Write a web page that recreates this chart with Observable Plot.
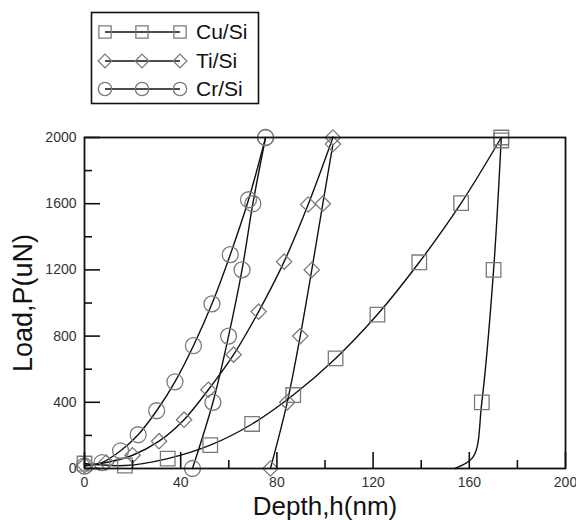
<!DOCTYPE html>
<html><head><meta charset="utf-8">
<script src="https://cdn.jsdelivr.net/npm/d3@7"></script>
<script src="https://cdn.jsdelivr.net/npm/@observablehq/plot@0.6"></script>
<style>
body{margin:0;background:#fff;font-family:"Liberation Sans",Arial,sans-serif;}
#wrap{position:relative;width:576px;height:520px;}
#wrap svg{position:absolute;left:0;top:0;}
</style></head><body><div id="wrap"></div>
<script>
// ---- data (depth h in nm, load P in uN) ----
const seriesNames = ["Cu/Si", "Ti/Si", "Cr/Si"];
const seriesSymbols = ["square", "diamond2", "circle"];

const cuLoading = [[0,30],[16.8,18],[34.6,60],[52.3,141],[69.7,269],[86.8,444],[104.4,665],[121.8,930],[139.2,1246],[156.6,1603],[173.3,2000]];
const cuUnloading = [[173.3,1982],[170.1,1200],[165.2,400]];
const cuUnloadingLine = [[173.3,2000],[170.1,1200],[165.2,400],[161.6,70],[154,0]];

const tiLoading = [[0,20],[9,36],[20,80],[31,165],[41.4,295],[51.5,476],[62,688],[72.4,948],[83,1250],[93,1595],[103.3,2000]];
const tiUnloading = [[103.3,1960],[99.1,1600],[94.5,1200],[89.7,800],[84.3,400],[77.3,0]];

const crLoading = [[0,15],[7.3,36],[15,107],[22.3,204],[30,349],[37.6,524],[45.3,742],[53,995],[60.6,1292],[68.2,1624],[75.3,2000]];
const crUnloading = [[75.3,2000],[70,1600],[65.5,1200],[59.9,800],[53.4,400],[44.9,0]];

const xMajorTicks = [0,40,80,120,160,200];
const xMinorTicks = [20,60,100,140,180];
const yMajorTicks = [0,400,800,1200,1600,2000];
const yMinorTicks = [200,600,1000,1400,1800];
const xLabel = "Depth,h(nm)";
const yLabel = "Load,P(uN)";

// ---- layout ----
const W = 576, H = 520;
const mL = 84, mR = 11, mT = 137, mB = 52;
const plotW = W - mL - mR, plotH = H - mT - mB;
const markerStroke = "#7a7a7a";
const font = "Liberation Sans, Arial, sans-serif";

const lineOpts = {x: d => d[0], y: d => d[1], stroke: "#111", strokeWidth: 1.4, curve: "catmull-rom"};
const dotOpts = (sym, r) => ({x: d => d[0], y: d => d[1], symbol: sym, r, stroke: markerStroke, fill: "none", strokeWidth: 1.3});

const chart = Plot.plot({
  width: W, height: H,
  marginLeft: mL, marginRight: mR, marginTop: mT, marginBottom: mB,
  style: {fontFamily: font, background: "transparent"},
  x: {domain: [0, 200], axis: null},
  y: {domain: [0, 2000], axis: null},
  marks: [
    // curves
    Plot.line(cuLoading, lineOpts),
    Plot.line(cuUnloadingLine, lineOpts),
    Plot.line(tiLoading, lineOpts),
    Plot.line(tiUnloading, lineOpts),
    Plot.line(crLoading, lineOpts),
    Plot.line(crUnloading, lineOpts),
    // markers
    Plot.dot(cuLoading, dotOpts("square", 8.2)),
    Plot.dot(cuUnloading, dotOpts("square", 8.2)),
    Plot.dot(tiLoading, dotOpts("diamond2", 6.9)),
    Plot.dot(tiUnloading, dotOpts("diamond2", 6.9)),
    Plot.dot(crLoading, dotOpts("circle", 8)),
    Plot.dot(crUnloading, dotOpts("circle", 8)),
    // inward ticks
    Plot.tickX(xMajorTicks, {x: d => d, insetTop: plotH - 16, stroke: "#111", strokeWidth: 1.6}),
    Plot.tickX(xMinorTicks, {x: d => d, insetTop: plotH - 8, stroke: "#111", strokeWidth: 1.6}),
    Plot.tickY(yMajorTicks, {y: d => d, insetRight: plotW - 16, stroke: "#111", strokeWidth: 1.6}),
    Plot.tickY(yMinorTicks, {y: d => d, insetRight: plotW - 8, stroke: "#111", strokeWidth: 1.6}),
    // tick labels
    Plot.axisX(xMajorTicks, {tickSize: 0, tickPadding: 9, fontSize: 14, fill: "#333", label: null, tickFormat: d => String(d)}),
    Plot.axisY(yMajorTicks, {tickSize: 0, tickPadding: 8, fontSize: 14, fill: "#333", label: null, tickFormat: d => String(d)}),
    // axis titles
    Plot.text([xLabel], {frameAnchor: "bottom", dy: 38, textAnchor: "middle", lineAnchor: "middle", fontSize: 26, fill: "#111", text: d => d}),
    Plot.text([yLabel], {frameAnchor: "left", dx: -61, rotate: -90, textAnchor: "middle", lineAnchor: "middle", fontSize: 27, fill: "#111", text: d => d}),
    Plot.frame({stroke: "#111", strokeWidth: 1.8})
  ]
});
const wrap = document.getElementById("wrap");
wrap.appendChild(chart);

// ---- legend (drawn above the plot area) ----
const leg = d3.select(wrap).append("svg").attr("width", W).attr("height", 120)
  .style("font-family", font);
leg.append("rect").attr("x", 91.5).attr("y", 12.5).attr("width", 167).attr("height", 91)
  .attr("fill", "white").attr("stroke", "#111").attr("stroke-width", 1.6);
const rowY = [32, 61, 89];
const mx = [105, 142, 180];
const symMap = {square: d3.symbolSquare, diamond2: d3.symbolDiamond2, circle: d3.symbolCircle};
const symSize = {square: 150, diamond2: 120, circle: 140};
seriesNames.forEach((name, i) => {
  const y = rowY[i];
  leg.append("line").attr("x1", mx[0]).attr("x2", mx[2]).attr("y1", y).attr("y2", y)
    .attr("stroke", "#111").attr("stroke-width", 1.4);
  mx.forEach(x => {
    leg.append("path").attr("d", d3.symbol(symMap[seriesSymbols[i]], symSize[seriesSymbols[i]])())
      .attr("transform", `translate(${x},${y})`).attr("fill", "none")
      .attr("stroke", markerStroke).attr("stroke-width", 1.3);
  });
  leg.append("text").attr("x", 196).attr("y", y).attr("dy", "0.35em")
    .attr("font-size", 21).attr("fill", "#111").text(name);
});
</script></body></html>
